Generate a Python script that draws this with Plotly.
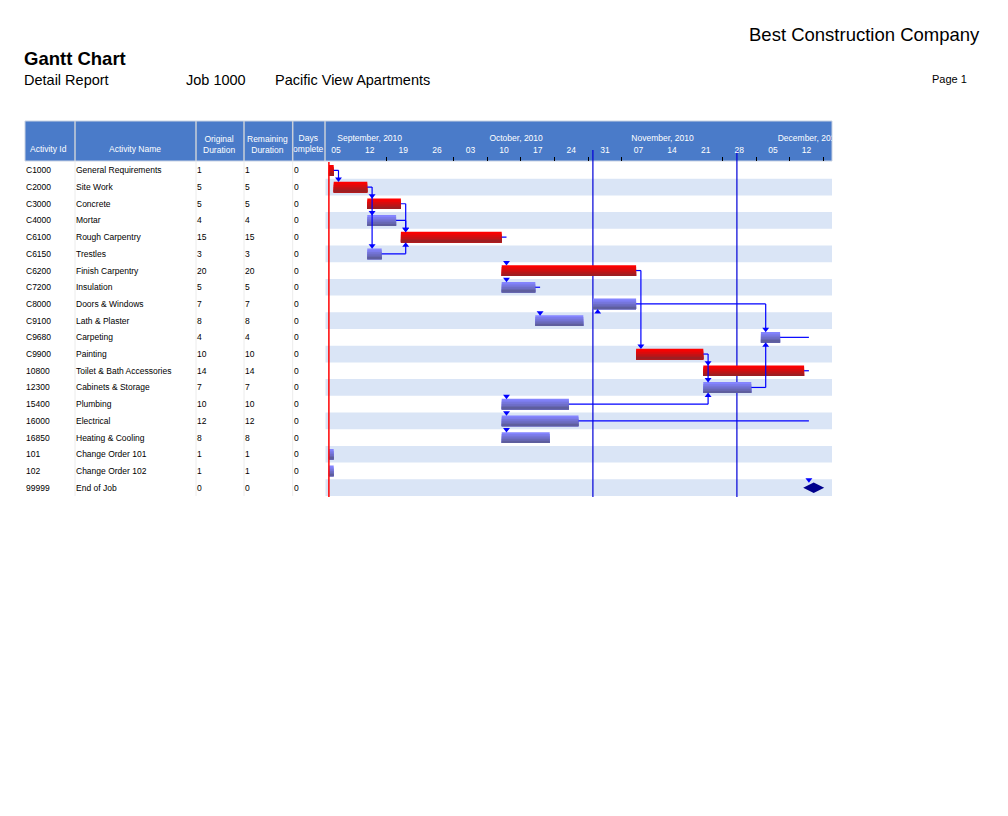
import plotly.graph_objects as go
from datetime import datetime, timedelta

# ---------------- data ----------------
company_name = "Best Construction Company"
report_title = "Gantt Chart"
report_subtitle = "Detail Report"
job_label = "Job 1000"
project_name = "Pacific View Apartments"
page_label = "Page 1"

column_headers = ["Activity Id", "Activity Name", "Original<br>Duration", "Remaining<br>Duration"]
days_complete_header = ["Days", "Complete"]

activity_ids = ["C1000", "C2000", "C3000", "C4000", "C6100", "C6150", "C6200", "C7200",
                "C8000", "C9100", "C9680", "C9900", "10800", "12300", "15400", "16000",
                "16850", "101", "102", "99999"]
activity_names = ["General Requirements", "Site Work", "Concrete", "Mortar", "Rough Carpentry",
                  "Trestles", "Finish Carpentry", "Insulation", "Doors & Windows", "Lath & Plaster",
                  "Carpeting", "Painting", "Toilet & Bath Accessories", "Cabinets & Storage",
                  "Plumbing", "Electrical", "Heating & Cooling", "Change Order 101",
                  "Change Order 102", "End of Job"]
original_duration = [1, 5, 5, 4, 15, 3, 20, 5, 7, 8, 4, 10, 14, 7, 10, 12, 8, 1, 1, 0]
remaining_duration = [1, 5, 5, 4, 15, 3, 20, 5, 7, 8, 4, 10, 14, 7, 10, 12, 8, 1, 1, 0]
days_complete = [0, 0, 0, 0, 0, 0, 0, 0, 0, 0, 0, 0, 0, 0, 0, 0, 0, 0, 0, 0]
start_dates = ["2010-09-07", "2010-09-08", "2010-09-15", "2010-09-15", "2010-09-22",
               "2010-09-15", "2010-10-13", "2010-10-13", "2010-11-01", "2010-10-20",
               "2010-12-06", "2010-11-10", "2010-11-24", "2010-11-24", "2010-10-13",
               "2010-10-13", "2010-10-13", "2010-09-07", "2010-09-07", "2010-12-17"]
finish_dates = ["2010-09-08", "2010-09-15", "2010-09-22", "2010-09-21", "2010-10-13",
                "2010-09-18", "2010-11-10", "2010-10-20", "2010-11-10", "2010-10-30",
                "2010-12-10", "2010-11-24", "2010-12-15", "2010-12-04", "2010-10-27",
                "2010-10-29", "2010-10-23", "2010-09-08", "2010-09-08", "2010-12-17"]
is_critical = [True, True, True, False, True, False, True, False, False, False,
               False, True, True, False, False, False, False, False, False, False]
is_milestone = [False] * 19 + [True]

# float lines (thin line after bar up to the date shown)
float_rows = [10, 12, 15]
float_end = ["2010-12-16", "2010-12-16", "2010-12-16"]

# relationships: predecessor row, bend date, successor rows, vertical drawn
link_pred = [0, 1, 2, 3, 5, 4, 7, 6, 8, 11, 13, 14]
link_bend = ["2010-09-09", "2010-09-16", "2010-09-23", "2010-09-23", "2010-09-23", "2010-10-14",
             "2010-10-21", "2010-11-11", "2010-12-07", "2010-11-25", "2010-12-07", "2010-11-25"]
link_succ = [[1], [2, 3, 5], [4], [4], [4], [6, 7, 14, 15, 16], [9], [11], [10], [12, 13], [10], [13]]
link_vertical = [True, True, True, True, True, False, False, True, True, True, True, True]
extra_arrow_dates = ["2010-11-02", "2010-12-16"]
extra_arrow_rows = [8, 19]
extra_arrow_up = [True, False]

data_date = "2010-09-07"
month_line_dates = ["2010-11-01", "2010-12-01"]
week_starts = ["2010-09-05", "2010-09-12", "2010-09-19", "2010-09-26", "2010-10-03", "2010-10-10",
               "2010-10-17", "2010-10-24", "2010-10-31", "2010-11-07", "2010-11-14", "2010-11-21",
               "2010-11-28", "2010-12-05", "2010-12-12"]
week_labels = ["05", "12", "19", "26", "03", "10", "17", "24", "31", "07", "14", "21", "28", "05", "12"]
tick_dates = ["2010-09-19", "2010-10-03", "2010-10-10", "2010-10-17", "2010-10-24", "2010-10-31",
              "2010-11-07", "2010-11-28", "2010-12-05", "2010-12-12", "2010-12-19"]
month_labels = ["September, 2010", "October, 2010", "November, 2010", "December, 2010"]
month_label_dates = ["2010-09-15 12:00", "2010-10-16", "2010-11-15 12:00", "2010-12-16"]

# ---------------- layout helpers ----------------
PAGE_OFF = 8  # browser body margin
W, H = 1008 - 2 * PAGE_OFF, 816 - 2 * PAGE_OFF
FONT = "Liberation Sans, Arial, sans-serif"
HEADER_BLUE = "#4a7bc9"
BAND = "#dae5f6"
LINK_BLUE = "#0000ff"
TXT_PAD = 2  # annotation inner padding compensation


def px(x):
    return (x - PAGE_OFF) / W


def py(y):
    return 1 - (y - PAGE_OFF) / H


def d(s):
    return datetime.fromisoformat(s)


ROW_TOP, ROW_BOT = 162, 496
GANTT_L, GANTT_R = 325.5, 832
HEAD_TOP, HEAD_BOT = 121, 161
scale_origin = datetime(2010, 9, 5)
px_per_day = 4.8
origin_px = 319.3
x_range = [scale_origin + timedelta(days=(GANTT_L - origin_px) / px_per_day),
           scale_origin + timedelta(days=(GANTT_R - origin_px) / px_per_day)]

n = len(activity_ids)
fig = go.Figure()

# relationship lines (under bars)
lx, ly = [], []
arrows_down_x, arrows_down_y, arrows_up_x, arrows_up_y = [], [], [], []
OFF = 0.48
for p, bend, succ, vert in zip(link_pred, link_bend, link_succ, link_vertical):
    lx += [finish_dates[p], bend, None]
    ly += [p, p, None]
    down = max(succ) > p
    if down:
        target = max(succ) - OFF
    else:
        target = min(succ) + OFF
    if vert:
        lx += [bend, bend, None]
        ly += [p, target, None]
    for s in succ:
        if down:
            arrows_down_x.append(bend)
            arrows_down_y.append(s - OFF)
        else:
            arrows_up_x.append(bend)
            arrows_up_y.append(s + OFF)
for r, e in zip(float_rows, float_end):
    lx += [finish_dates[r], e, None]
    ly += [r, r, None]
for dt, r, up in zip(extra_arrow_dates, extra_arrow_rows, extra_arrow_up):
    if up:
        arrows_up_x.append(dt)
        arrows_up_y.append(r + OFF)
    else:
        arrows_down_x.append(dt)
        arrows_down_y.append(r - OFF)

fig.add_trace(go.Scatter(x=lx, y=ly, mode="lines", line=dict(color=LINK_BLUE, width=1.2),
                         hoverinfo="skip", showlegend=False, xaxis="x", yaxis="y"))

# gradient bars
THICK = 0.64
NSTRIP = 6


def mix(c0, c1, t):
    return "rgb(%d,%d,%d)" % tuple(round(a + (b - a) * t) for a, b in zip(c0, c1))


for crit, top, bot in [(True, (255, 0, 0), (158, 30, 34)), (False, (132, 132, 255), (94, 94, 158))]:
    rows = [i for i in range(n) if is_critical[i] == crit and not is_milestone[i]]
    base = [start_dates[i] for i in rows]
    dur = [(d(finish_dates[i]) - d(start_dates[i])).total_seconds() * 1000 for i in rows]
    for k in range(NSTRIP):
        fig.add_trace(go.Bar(
            y=rows, x=dur, base=base, orientation="h",
            width=THICK * (1 - k / NSTRIP), offset=-THICK / 2 + k * THICK / NSTRIP,
            marker=dict(color=mix(top, bot, k / (NSTRIP - 1)), line=dict(width=0)),
            hoverinfo="skip", showlegend=False, xaxis="x", yaxis="y"))

# milestone
ms_rows = [i for i in range(n) if is_milestone[i]]
fig.add_trace(go.Scatter(x=[start_dates[i] for i in ms_rows], y=ms_rows, mode="markers",
                         marker=dict(symbol="diamond-wide", size=15, color="#00008c", line=dict(width=0)),
                         hoverinfo="skip", showlegend=False, xaxis="x", yaxis="y"))

# arrowheads
fig.add_trace(go.Scatter(x=arrows_down_x, y=arrows_down_y, mode="markers",
                         marker=dict(symbol="triangle-down", size=6, color=LINK_BLUE, line=dict(width=0)),
                         hoverinfo="skip", showlegend=False, xaxis="x", yaxis="y"))
fig.add_trace(go.Scatter(x=arrows_up_x, y=arrows_up_y, mode="markers",
                         marker=dict(symbol="triangle-up", size=6, color=LINK_BLUE, line=dict(width=0)),
                         hoverinfo="skip", showlegend=False, xaxis="x", yaxis="y"))

# timeline header labels (clipped to gantt area)
fig.add_trace(go.Scatter(x=[d(w) + timedelta(days=3.5) for w in week_starts], y=[0.26] * len(week_labels),
                         mode="text", text=week_labels, textposition="middle center",
                         textfont=dict(family=FONT, size=8.5, color="white"),
                         hoverinfo="skip", showlegend=False, xaxis="x", yaxis="y2"))
fig.add_trace(go.Scatter(x=month_label_dates, y=[0.55] * len(month_labels),
                         mode="text", text=month_labels, textposition="middle center",
                         textfont=dict(family=FONT, size=8.5, color="white"),
                         hoverinfo="skip", showlegend=False, xaxis="x", yaxis="y2"))
# Days Complete header (clipped to its column)
fig.add_trace(go.Scatter(x=[0.47, 0.37], y=[0.55, 0.29], mode="text", text=days_complete_header,
                         textposition="middle center",
                         textfont=dict(family=FONT, size=8.5, color="white"),
                         hoverinfo="skip", showlegend=False, xaxis="x3", yaxis="y3"))

shapes = []
# header bar
shapes.append(dict(type="rect", xref="paper", yref="paper", x0=px(25), x1=px(GANTT_R),
                   y0=py(HEAD_BOT), y1=py(HEAD_TOP), fillcolor=HEADER_BLUE,
                   line=dict(color="#c9d3e3", width=1), layer="below"))
for xs in [75, 196, 244, 292.7, 325]:
    shapes.append(dict(type="line", xref="paper", yref="paper", x0=px(xs), x1=px(xs),
                       y0=py(HEAD_BOT), y1=py(HEAD_TOP), line=dict(color="#c9cfd8", width=1.5), layer="below"))
for xs in [75, 196, 244, 292.7]:
    shapes.append(dict(type="line", xref="paper", yref="paper", x0=px(xs), x1=px(xs),
                       y0=py(ROW_BOT), y1=py(ROW_TOP), line=dict(color="#ececec", width=1), layer="below"))
# alternating bands
for i in range(n):
    if i % 2 == 1:
        shapes.append(dict(type="rect", xref="paper", yref="y", x0=px(GANTT_L), x1=px(GANTT_R),
                           y0=i - 0.5, y1=i + 0.5, fillcolor=BAND, line=dict(width=0), layer="below"))
# month boundary lines
for md in month_line_dates:
    shapes.append(dict(type="line", xref="x", yref="paper", x0=md, x1=md, y0=py(497), y1=py(150),
                       line=dict(color="#0000d8", width=1.2), layer="below"))
# data date
shapes.append(dict(type="line", xref="x", yref="paper", x0=data_date, x1=data_date, y0=py(497), y1=py(ROW_TOP),
                   line=dict(color="#ff0000", width=1.5), layer="above"))

ann = []
# page header texts
ann.append(dict(text=company_name, x=px(980 + TXT_PAD), y=py(35), xanchor="right", yanchor="middle",
                font=dict(family=FONT, size=18.5, color="black")))
ann.append(dict(text="<b>" + report_title + "</b>", x=px(24 - TXT_PAD), y=py(58), xanchor="left",
                yanchor="middle", font=dict(family=FONT, size=18.5, color="black")))
ann.append(dict(text=report_subtitle, x=px(24 - TXT_PAD), y=py(80), xanchor="left", yanchor="middle",
                font=dict(family=FONT, size=14.5, color="black")))
ann.append(dict(text=job_label, x=px(186 - TXT_PAD), y=py(80), xanchor="left", yanchor="middle",
                font=dict(family=FONT, size=14.5, color="black")))
ann.append(dict(text=project_name, x=px(275 - TXT_PAD), y=py(80), xanchor="left", yanchor="middle",
                font=dict(family=FONT, size=14.5, color="black")))
ann.append(dict(text=page_label, x=px(968 + 1), y=py(79), xanchor="right", yanchor="middle",
                font=dict(family=FONT, size=11, color="black")))
# table header
for txt, cx in zip(column_headers, [48.5, 134.5, 219, 267.5]):
    cy = 149.3 if "<br>" not in txt else 144
    ann.append(dict(text=txt, x=px(cx), y=py(cy), xanchor="center", yanchor="middle",
                    font=dict(family=FONT, size=8.5, color="white")))
# table body
col_x = [26, 76, 197, 245, 294]
for i in range(n):
    vals = [activity_ids[i], activity_names[i], str(original_duration[i]),
            str(remaining_duration[i]), str(days_complete[i])]
    for v, cx in zip(vals, col_x):
        ann.append(dict(text=v, x=px(cx - TXT_PAD), y=i, xref="paper", yref="y", xanchor="left",
                        yanchor="middle", font=dict(family=FONT, size=8.5, color="black")))
for a in ann:
    a.setdefault("xref", "paper")
    a.setdefault("yref", "paper")
    a["showarrow"] = False

fig.update_layout(
    width=W, height=H, margin=dict(l=0, r=0, t=0, b=0),
    paper_bgcolor="white", plot_bgcolor="rgba(0,0,0,0)",
    barmode="overlay", showlegend=False,
    shapes=shapes, annotations=ann,
    xaxis=dict(type="date", domain=[px(GANTT_L), px(GANTT_R)], range=x_range, anchor="y", side="top",
               showgrid=False, zeroline=False, showline=False, showticklabels=False,
               tickmode="array", tickvals=tick_dates, ticks="outside", ticklen=4, tickwidth=1,
               tickcolor="black", fixedrange=True),
    yaxis=dict(domain=[py(ROW_BOT), py(ROW_TOP)], range=[n - 0.5, -0.5], anchor="x",
               visible=False, showgrid=False, zeroline=False, fixedrange=True),
    yaxis2=dict(domain=[py(HEAD_BOT), py(HEAD_TOP)], range=[0, 1], anchor="x", visible=False, fixedrange=True),
    xaxis3=dict(domain=[px(293.5), px(325)], range=[0, 1], anchor="y3", visible=False, fixedrange=True),
    yaxis3=dict(domain=[py(HEAD_BOT), py(HEAD_TOP)], range=[0, 1], anchor="x3", visible=False, fixedrange=True),
)

fig.write_html("out.html")
